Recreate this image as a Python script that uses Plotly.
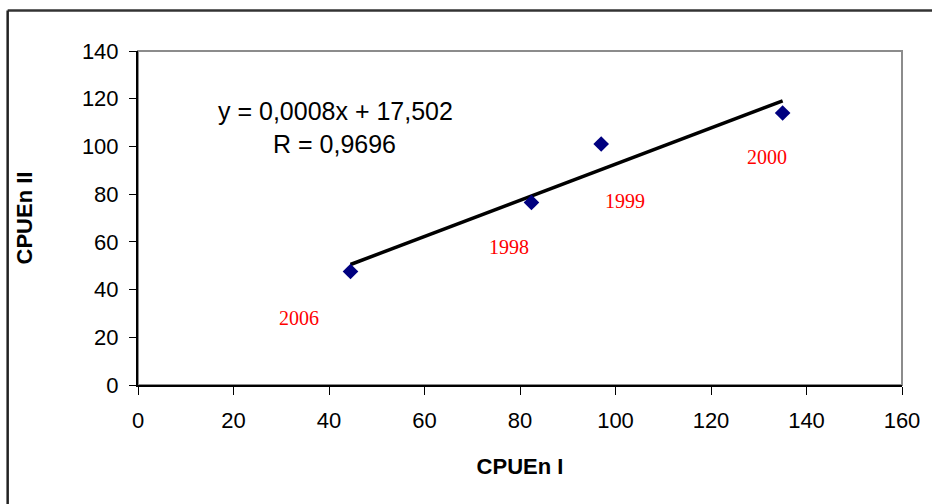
import numpy as np
import plotly.graph_objects as go

# Data
years = ["2006", "1998", "1999", "2000"]
cpue_1 = [44.5, 82.4, 97.0, 135.0]
cpue_2 = [47.6, 76.5, 101.0, 114.0]
label_x = [33.7, 77.6, 102.0, 131.8]
label_y = [28.2, 58.0, 77.3, 95.4]
x_ticks = [0, 20, 40, 60, 80, 100, 120, 140, 160]
y_ticks = [0, 20, 40, 60, 80, 100, 120, 140]
equation_lines = ["y = 0,0008x + 17,502", "R = 0,9696"]

slope, intercept = np.polyfit(cpue_1, cpue_2, 1)
fit_x = [min(cpue_1), max(cpue_1)]
fit_y = [slope * v + intercept for v in fit_x]

fig = go.Figure()
fig.add_trace(go.Scatter(x=fit_x, y=fit_y, mode="lines",
                         line=dict(color="black", width=3.5), showlegend=False,
                         hoverinfo="skip"))
fig.add_trace(go.Scatter(x=cpue_1, y=cpue_2, mode="markers",
                         marker=dict(symbol="diamond", size=12, color="#000080"),
                         showlegend=False))

for t, lx, ly in zip(years, label_x, label_y):
    fig.add_annotation(x=lx, y=ly, text=t, showarrow=False,
                       font=dict(family="Liberation Serif", size=20, color="red"))

fig.add_annotation(x=41.4, y=114.7, text=equation_lines[0], showarrow=False,
                   font=dict(family="Liberation Sans", size=25, color="black"))
fig.add_annotation(x=41.2, y=100.9, text=equation_lines[1], showarrow=False,
                   font=dict(family="Liberation Sans", size=25, color="black"))

# plot frame (gray) and outer chart border (black, top and left)
fig.add_shape(type="rect", xref="paper", yref="paper", x0=0, x1=1, y0=0, y1=1,
              line=dict(color="#8c8c8c", width=2), layer="below")
fig.add_shape(type="line", xref="paper", yref="paper", x0=-0.1706, x1=1.05,
              y0=1.121, y1=1.121, line=dict(color="#333333", width=2.5))
fig.add_shape(type="line", xref="paper", yref="paper", x0=-0.1706, x1=-0.1706,
              y0=1.121, y1=-0.4, line=dict(color="#222222", width=2.5))

axis_font = dict(family="Liberation Sans", size=22, color="black")
fig.update_xaxes(range=[0, 160], tickvals=x_ticks, ticks="outside", ticklen=8,
                 tickcolor="black", showline=True, linecolor="black", linewidth=2,
                 showgrid=False, zeroline=False, tickfont=axis_font,
                 ticklabelstandoff=7, automargin=False,
                 title=dict(text="<b>CPUEn I</b>", standoff=26,
                            font=dict(family="Liberation Sans", size=22, color="black")))
fig.update_yaxes(range=[0, 140], tickvals=y_ticks, ticks="outside", ticklen=7,
                 tickcolor="black", showline=True, linecolor="black", linewidth=2,
                 showgrid=False, zeroline=False, tickfont=axis_font,
                 ticklabelstandoff=6, automargin=False,
                 title=dict(text="<b>CPUEn II</b>", standoff=43,
                            font=dict(family="Liberation Sans", size=22, color="black")))

fig.update_layout(width=932, height=504, paper_bgcolor="white", plot_bgcolor="white",
                  margin=dict(l=138, r=30, t=51, b=119), showlegend=False)

fig.write_html("out.html", config={"displayModeBar": False},
               post_script="document.body.style.margin='0';")
